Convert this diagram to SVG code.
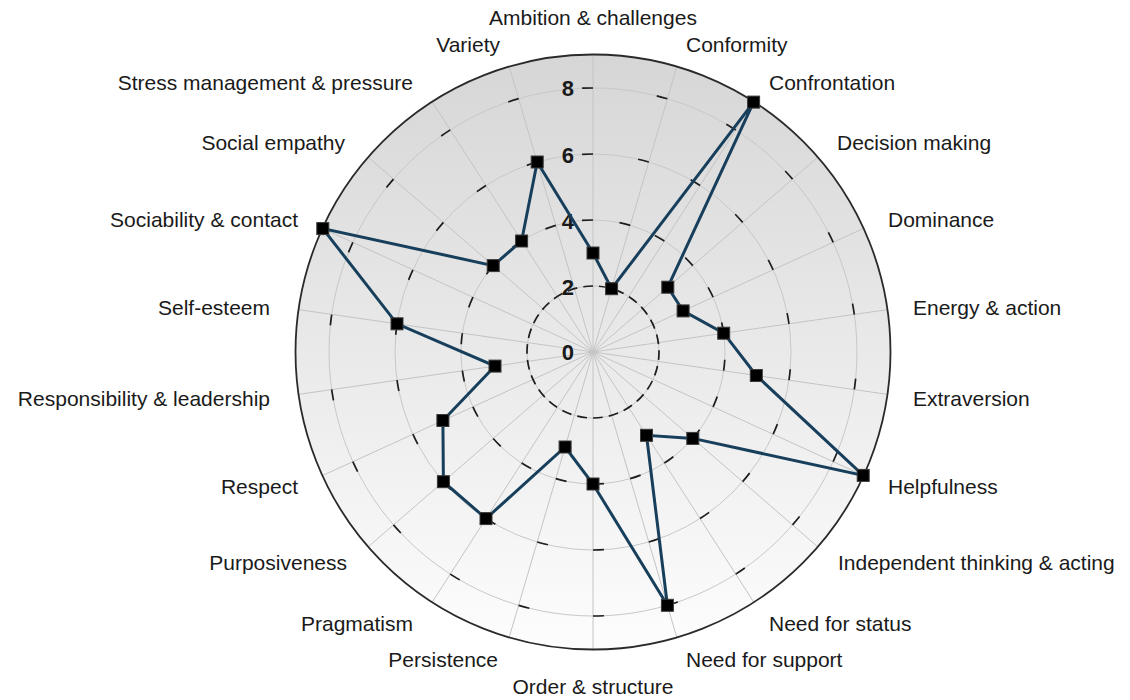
<svg xmlns="http://www.w3.org/2000/svg" width="1130" height="700" viewBox="0 0 1130 700">
<style>
.lbl{font-family:"Liberation Sans",Arial,sans-serif;font-size:21px;fill:#1a1a1a}
.num{font-family:"Liberation Sans",Arial,sans-serif;font-size:22px;font-weight:bold;fill:#1a1a1a;text-anchor:end}
.spoke{stroke:#c4c4c4;stroke-width:1}
.ring{fill:none;stroke:#c8c8c8;stroke-width:1}
.dash{fill:none;stroke:#1e1e1e;stroke-width:1.7}
.mk{fill:#000;stroke:#3a3a3a;stroke-width:1}
.data{fill:none;stroke:#173f5c;stroke-width:3;stroke-linejoin:miter}
</style>
<defs>
<linearGradient id="bg" x1="0" y1="0" x2="0" y2="1">
<stop offset="0" stop-color="#d6d6d6"/>
<stop offset="1" stop-color="#fdfdfd"/>
</linearGradient>
</defs>
<rect width="1130" height="700" fill="#fff"/>
<g id="plot">
<circle cx="593" cy="352" r="297.5" fill="url(#bg)" stroke="none"/>
<g id="spokes">
<line class="spoke" x1="593" y1="352" x2="593" y2="55"/>
<line class="spoke" x1="593" y1="352" x2="676.7" y2="67.0"/>
<line class="spoke" x1="593" y1="352" x2="753.6" y2="102.1"/>
<line class="spoke" x1="593" y1="352" x2="817.4" y2="157.5"/>
<line class="spoke" x1="593" y1="352" x2="863.2" y2="228.6"/>
<line class="spoke" x1="593" y1="352" x2="887.0" y2="309.7"/>
<line class="spoke" x1="593" y1="352" x2="887.0" y2="394.3"/>
<line class="spoke" x1="593" y1="352" x2="863.2" y2="475.4"/>
<line class="spoke" x1="593" y1="352" x2="817.4" y2="546.5"/>
<line class="spoke" x1="593" y1="352" x2="753.6" y2="601.9"/>
<line class="spoke" x1="593" y1="352" x2="676.7" y2="637.0"/>
<line class="spoke" x1="593" y1="352" x2="593" y2="649"/>
<line class="spoke" x1="593" y1="352" x2="509.3" y2="637.0"/>
<line class="spoke" x1="593" y1="352" x2="432.4" y2="601.9"/>
<line class="spoke" x1="593" y1="352" x2="368.6" y2="546.5"/>
<line class="spoke" x1="593" y1="352" x2="322.8" y2="475.4"/>
<line class="spoke" x1="593" y1="352" x2="299.0" y2="394.3"/>
<line class="spoke" x1="593" y1="352" x2="299.0" y2="309.7"/>
<line class="spoke" x1="593" y1="352" x2="322.8" y2="228.6"/>
<line class="spoke" x1="593" y1="352" x2="368.6" y2="157.5"/>
<line class="spoke" x1="593" y1="352" x2="432.4" y2="102.1"/>
<line class="spoke" x1="593" y1="352" x2="509.3" y2="67.0"/>
</g>
<g id="rings">
<circle class="ring" cx="593" cy="352" r="66"/>
<circle class="ring" cx="593" cy="352" r="132"/>
<circle class="ring" cx="593" cy="352" r="198"/>
<circle class="ring" cx="593" cy="352" r="264"/>
<circle class="dash" cx="593" cy="352" r="66" pathLength="360" stroke-dasharray="8.5 5.346" stroke-dashoffset="1.58"/>
<circle class="dash" cx="593" cy="352" r="132" pathLength="360" stroke-dasharray="4.775 11.589" stroke-dashoffset="12.957"/>
<circle class="dash" cx="593" cy="352" r="198" pathLength="360" stroke-dasharray="3.183 13.181" stroke-dashoffset="11.365"/>
<circle class="dash" cx="593" cy="352" r="264" pathLength="360" stroke-dasharray="2.387 13.977" stroke-dashoffset="10.569"/>
</g>
<circle cx="593" cy="352" r="297.5" fill="none" stroke="#2a2a2a" stroke-width="1.8"/>
<g id="scale">
<text class="num" x="574" y="96">8</text>
<text class="num" x="574" y="163">6</text>
<text class="num" x="574" y="229">4</text>
<text class="num" x="574" y="295">2</text>
<text class="num" x="574" y="360">0</text>
</g>
</g>
<g id="connectors">
<polygon class="data" points="593,253 611.6,288.7 753.6,102.1 667.8,287.2 683.1,310.9 723.7,333.2 756.3,375.5 863.2,475.4 692.8,438.4 646.5,435.3 667.4,605.3 593,484 565.1,447 486,518.6 443.4,481.7 442.9,420.5 495,366.1 397,323.8 322.8,228.6 493.2,265.6 521.6,241 537.2,162"/>
</g>
<g id="n-ambition"><rect class="mk" x="587" y="247" width="12" height="12"/><text class="lbl" x="593" y="25" text-anchor="middle">Ambition &amp; challenges</text></g>
<g id="n-conformity"><rect class="mk" x="605.6" y="282.7" width="12" height="12"/><text class="lbl" x="686" y="52">Conformity</text></g>
<g id="n-confrontation"><rect class="mk" x="747.6" y="96.1" width="12" height="12"/><text class="lbl" x="769" y="90">Confrontation</text></g>
<g id="n-decision"><rect class="mk" x="661.8" y="281.2" width="12" height="12"/><text class="lbl" x="837" y="150">Decision making</text></g>
<g id="n-dominance"><rect class="mk" x="677.1" y="304.9" width="12" height="12"/><text class="lbl" x="888" y="227">Dominance</text></g>
<g id="n-energy"><rect class="mk" x="717.7" y="327.2" width="12" height="12"/><text class="lbl" x="913" y="315">Energy &amp; action</text></g>
<g id="n-extraversion"><rect class="mk" x="750.3" y="369.5" width="12" height="12"/><text class="lbl" x="913" y="406">Extraversion</text></g>
<g id="n-helpfulness"><rect class="mk" x="857.2" y="469.4" width="12" height="12"/><text class="lbl" x="888" y="494">Helpfulness</text></g>
<g id="n-independent"><rect class="mk" x="686.8" y="432.4" width="12" height="12"/><text class="lbl" x="838" y="570">Independent thinking &amp; acting</text></g>
<g id="n-status"><rect class="mk" x="640.5" y="429.3" width="12" height="12"/><text class="lbl" x="769" y="631">Need for status</text></g>
<g id="n-support"><rect class="mk" x="661.4" y="599.3" width="12" height="12"/><text class="lbl" x="686" y="667">Need for support</text></g>
<g id="n-order"><rect class="mk" x="587" y="478" width="12" height="12"/><text class="lbl" x="593" y="694" text-anchor="middle">Order &amp; structure</text></g>
<g id="n-persistence"><rect class="mk" x="559.1" y="441" width="12" height="12"/><text class="lbl" x="498" y="667" text-anchor="end">Persistence</text></g>
<g id="n-pragmatism"><rect class="mk" x="480" y="512.6" width="12" height="12"/><text class="lbl" x="413" y="631" text-anchor="end">Pragmatism</text></g>
<g id="n-purposiveness"><rect class="mk" x="437.4" y="475.7" width="12" height="12"/><text class="lbl" x="347" y="570" text-anchor="end">Purposiveness</text></g>
<g id="n-respect"><rect class="mk" x="436.9" y="414.5" width="12" height="12"/><text class="lbl" x="298" y="494" text-anchor="end">Respect</text></g>
<g id="n-responsibility"><rect class="mk" x="489" y="360.1" width="12" height="12"/><text class="lbl" x="270" y="406" text-anchor="end">Responsibility &amp; leadership</text></g>
<g id="n-selfesteem"><rect class="mk" x="391" y="317.8" width="12" height="12"/><text class="lbl" x="270" y="315" text-anchor="end">Self-esteem</text></g>
<g id="n-sociability"><rect class="mk" x="316.8" y="222.6" width="12" height="12"/><text class="lbl" x="298" y="227" text-anchor="end">Sociability &amp; contact</text></g>
<g id="n-empathy"><rect class="mk" x="487.2" y="259.6" width="12" height="12"/><text class="lbl" x="345" y="150" text-anchor="end">Social empathy</text></g>
<g id="n-stress"><rect class="mk" x="515.6" y="235" width="12" height="12"/><text class="lbl" x="413" y="90" text-anchor="end">Stress management &amp; pressure</text></g>
<g id="n-variety"><rect class="mk" x="531.2" y="156" width="12" height="12"/><text class="lbl" x="500" y="52" text-anchor="end">Variety</text></g>
</svg>
